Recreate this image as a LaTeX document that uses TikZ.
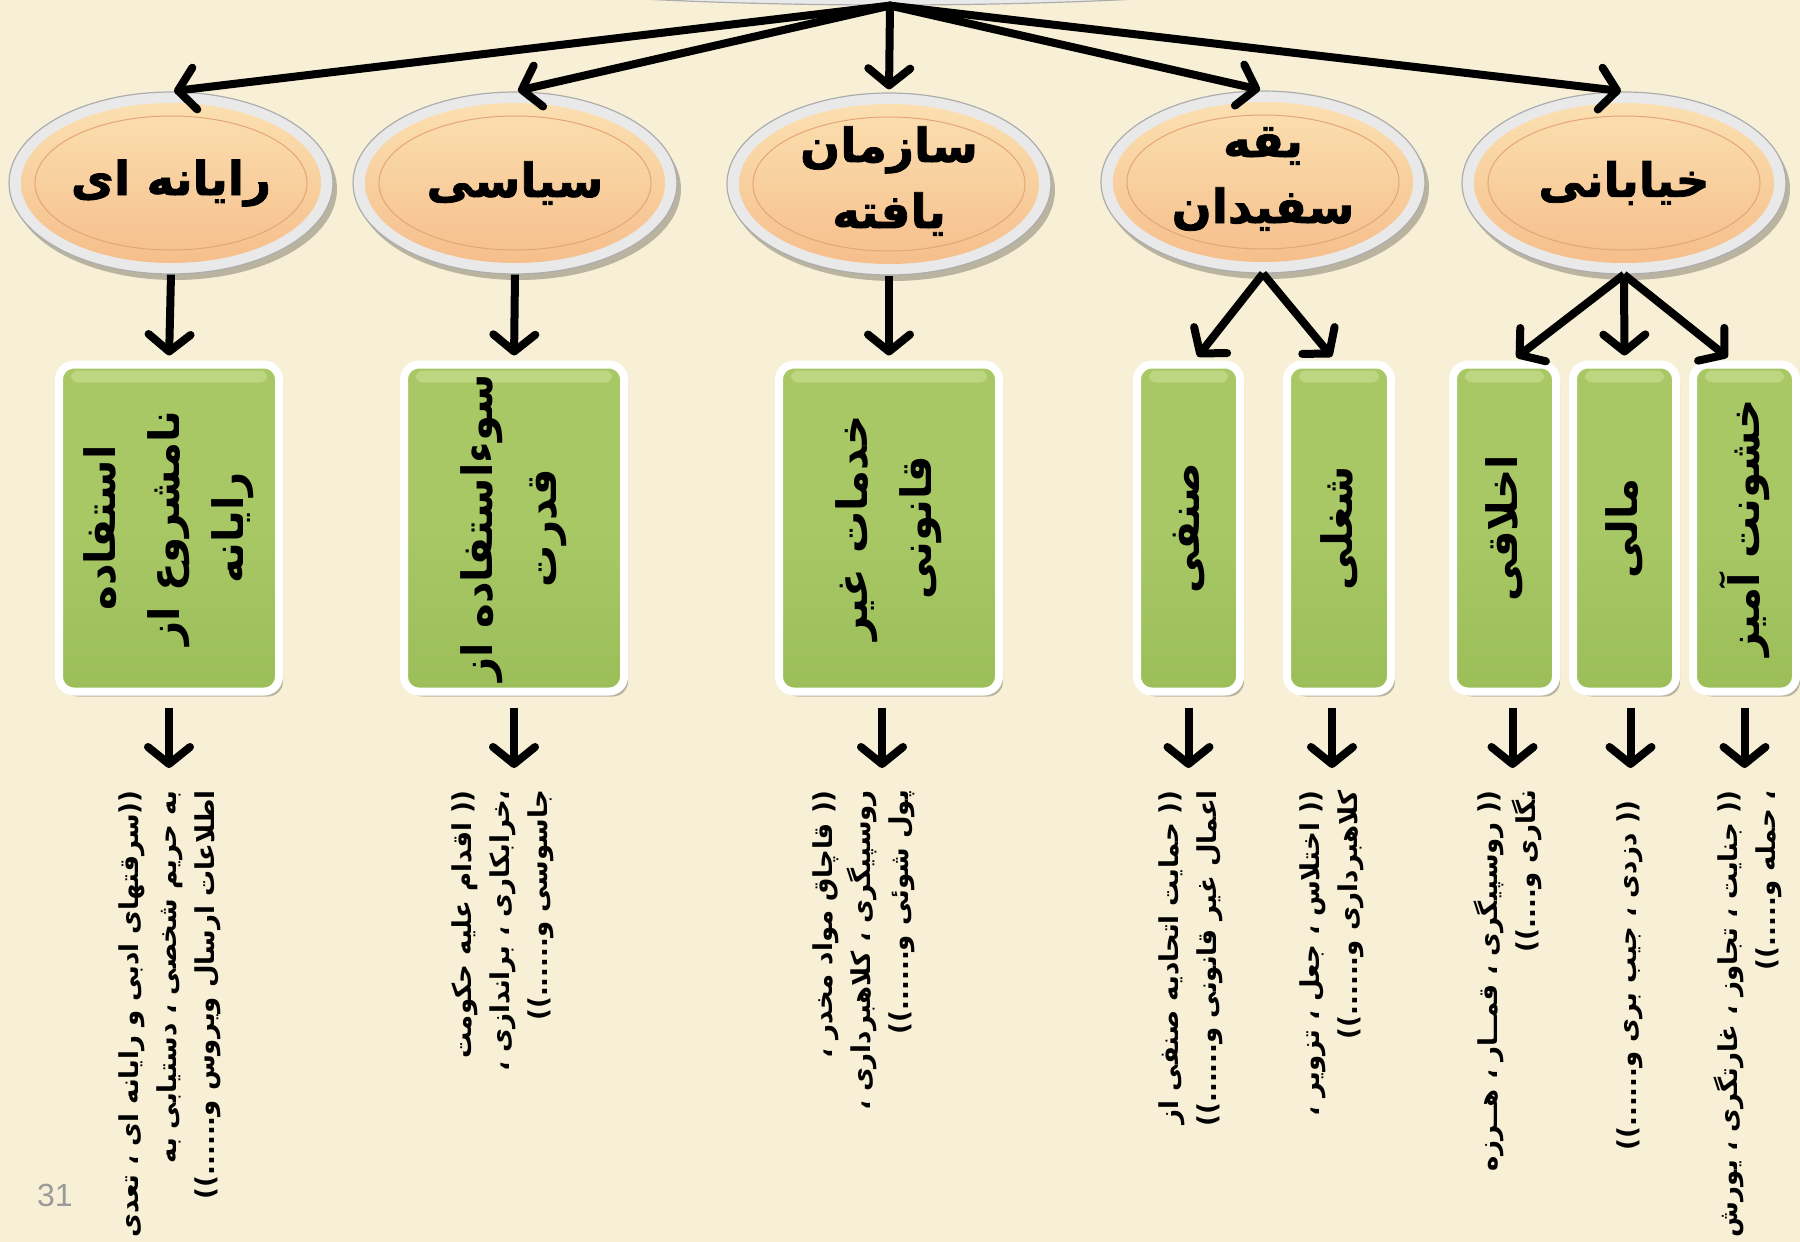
\documentclass[tikz,border=0pt]{standalone}
\usepackage{fontspec}
\newfontfamily\fa[Script=Arabic]{DejaVu Sans}
\newfontfamily\fatitle[Script=Arabic, BoldFeatures={FakeBold=1.6}]{DejaVu Sans}
\setsansfont{Liberation Sans}
\TeXXeTstate=1
\usetikzlibrary{shapes.geometric,arrows.meta,shadows,calc}

\definecolor{paper}{HTML}{F8F0D6}
\definecolor{peach}{HTML}{F9C89B}
\definecolor{peachtop}{HTML}{FCE2B3}
\definecolor{peachlow}{HTML}{F5BC89}
\definecolor{peachedge}{HTML}{E4A676}
\definecolor{ringgray}{HTML}{E9E9E9}
\definecolor{ringedge}{HTML}{ADADAD}
\definecolor{leaf}{HTML}{A7C865}
\definecolor{leaftop}{HTML}{BCD681}
\definecolor{leaflow}{HTML}{9CBE59}
\definecolor{pagegray}{HTML}{9A9A9A}

% one right-to-left line
\newcommand\rtl[1]{\beginR #1\endR}

\tikzset{
  bubble/.style={ellipse, inner sep=0pt, minimum width=324pt, minimum height=182pt,
    fill=ringgray, draw=ringedge, line width=1.2pt,
    drop shadow={shadow xshift=4pt, shadow yshift=-6pt, opacity=0.25, fill=black},
    path picture={
      \shade[top color=peachtop, middle color=peach, bottom color=peachlow]
        (path picture bounding box.center) ellipse [x radius=150, y radius=80];
      \draw[peachedge, line width=1pt]
        (path picture bounding box.center) ellipse [x radius=136, y radius=67];
    }},
  bubbletext/.style={inner sep=0pt, align=center,
    font=\fatitle\bfseries\fontsize{47}{66}\selectfont},
  leafbox/.style={rectangle, rounded corners=15pt, inner sep=0pt,
    minimum height=327pt, draw=white, line width=8pt,
    top color=leaf, bottom color=leaflow, middle color=leaf,
    drop shadow={shadow xshift=4pt, shadow yshift=-5pt, opacity=0.25, fill=black},
    path picture={
      \fill[leaftop, rounded corners=7pt]
        ($(path picture bounding box.north west)+(12,6)$) rectangle
        ($(path picture bounding box.north east)+(-12,18)$);
    }},
  boxtext/.style={rotate=90, inner sep=0pt, align=center,
    font=\fa\bfseries\fontsize{42}{64}\selectfont},
  desctext/.style={rotate=90, anchor=east, inner sep=0pt, align=right,
    font=\fa\bfseries\fontsize{26}{38}\selectfont},
  tip/.style={-{Straight Barb[length=17pt, width=42pt, round]}},
  toparrow/.style={tip, line width=8pt, line cap=round, shorten >=3pt},
  linkarrow/.style={tip, line width=8pt, shorten >=5pt},
  descarrow/.style={tip, line width=8pt, shorten <=12pt, shorten >=22pt},
}

\begin{document}
\begin{tikzpicture}[x=1pt, y=-1pt]
\useasboundingbox (0,0) rectangle (1800,1242);
\clip (0,0) rectangle (1800,1242);
\fill[paper] (0,0) rectangle (1800,1242);

% root of the tree, mostly above the page
\node[ellipse, inner sep=0pt, minimum width=1040pt, minimum height=100pt,
      fill=ringgray, draw=ringedge, line width=1.2pt] (root) at (890,-45) {};

% crime families
\node[bubble] (e1) at (171,183) {};
\node[bubble] (e2) at (515,183) {};
\node[bubble] (e3) at (889,184) {};
\node[bubble] (e4) at (1263,182) {};
\node[bubble] (e5) at (1624,183) {};
\node[bubbletext] (l1) at (e1) {\rtl{رایانه ای}};
\node[bubbletext] (l2) at (e2) {\rtl{سیاسی}};
\node[bubbletext] (l3) at ([yshift=3pt]e3) {\rtl{سازمان}\\\rtl{یافته}};
\node[bubbletext] (l4) at ([yshift=3pt]e4) {\rtl{یقه}\\\rtl{سفیدان}};
\node[bubbletext] (l5) at (e5) {\rtl{خیابانی}};

% sub-types
\node[leafbox, minimum width=220pt] (bA) at (169,528) {};
\node[leafbox, minimum width=220pt] (bB) at (514,528) {};
\node[leafbox, minimum width=220pt] (bC) at (889,528) {};
\node[leafbox, minimum width=103pt] (bD) at (1188.5,528) {};
\node[leafbox, minimum width=104pt] (bE) at (1339,528) {};
\node[leafbox, minimum width=103pt] (bF) at (1504.5,528) {};
\node[leafbox, minimum width=103pt] (bG) at (1624.5,528) {};
\node[leafbox, minimum width=103pt] (bH) at (1744.5,528) {};

\node[boxtext] (tA) at (bA) {\rtl{استفاده}\\\rtl{نامشروع از}\\\rtl{رایانه}};
\node[boxtext] (tB) at (bB) {\rtl{سوءاستفاده از}\\\rtl{قدرت}};
\node[boxtext] (tC) at (bC) {\rtl{خدمات غیر}\\\rtl{قانونی}};
\node[boxtext] (tD) at (bD) {\rtl{صنفی}};
\node[boxtext] (tE) at (bE) {\rtl{شغلی}};
\node[boxtext] (tF) at (bF) {\rtl{اخلاقی}};
\node[boxtext] (tG) at (bG) {\rtl{مالی}};
\node[boxtext] (tH) at (bH) {\rtl{خشونت آمیز}};

% examples
\node[desctext] (dA) at (170,790) {\rtl{((سرقتهای ادبی و رایانه ای ، تعدی}\\\rtl{به حریم شخصی ، دستیابی به}\\\rtl{اطلاعات ارسال ویروس و......))}};
\node[desctext] (dB) at (503,790) {\rtl{(( اقدام علیه حکومت}\\\rtl{،خرابکاری ، براندازی ،}\\\rtl{جاسوسی و......))}};
\node[desctext] (dC) at (864,790) {\rtl{(( قاچاق مواد مخدر ،}\\\rtl{روسپیگری ، کلاهبرداری ،}\\\rtl{پول شوئی و......))}};
\node[desctext] (dD) at (1191,790) {\rtl{(( حمایت اتحادیه صنفی از}\\\rtl{اعمال غیر قانونی و......))}};
\node[desctext] (dE) at (1332,790) {\rtl{(( اختلاس ، جعل ، تزویر ،}\\\rtl{کلاهبرداری و......))}};
\node[desctext] (dF) at (1508,790) {\rtl{(( روسپیگری ، قمــار ، هــرزه}\\\rtl{نگاری و....))}};
\node[desctext] (dG) at (1630,800) {\rtl{(( دزدی ، جیب بری و......))}};
\node[desctext] (dH) at (1748,790) {\rtl{(( جنایت ، تجاوز ، غارتگری ، یورش}\\\rtl{، حمله و.....))}};

\node[font=\sffamily\fontsize{32}{32}\selectfont, text=pagegray, inner sep=0pt] (page) at (55,1195) {31};

% connectors
\foreach \e in {e1,e2,e3,e4,e5}
  \draw[toparrow] (root.south) -- (\e.north);

\draw[linkarrow] (e1.south) -- (bA.north);
\draw[linkarrow] (e2.south) -- (bB.north);
\draw[linkarrow] (e3.south) -- (bC.north);
\draw[linkarrow] (e4.south) -- ([xshift=6pt]bD.north);
\draw[linkarrow] (e4.south) -- ([xshift=-4pt]bE.north);
\draw[linkarrow] (e5.south) -- ([xshift=8pt]bF.north);
\draw[linkarrow] (e5.south) -- (bG.north);
\draw[linkarrow] (e5.south) -- ([xshift=-13pt]bH.north);

\draw[descarrow] (bA.south) -- (bA.south |- dA.east);
\draw[descarrow] (bB.south) -- (bB.south |- dB.east);
\draw[descarrow] ([xshift=-7pt]bC.south) -- ([xshift=-7pt]bC.south |- dC.east);
\draw[descarrow] (bD.south) -- (bD.south |- dD.east);
\draw[descarrow] ([xshift=-7pt]bE.south) -- ([xshift=-7pt]bE.south |- dE.east);
\draw[descarrow] ([xshift=8pt]bF.south) -- ([xshift=8pt]bF.south |- dF.east);
\draw[descarrow] ([xshift=6pt]bG.south) -- ([xshift=6pt]bG.south |- dF.east);
\draw[descarrow] (bH.south) -- (bH.south |- dH.east);
\end{tikzpicture}
\end{document}
